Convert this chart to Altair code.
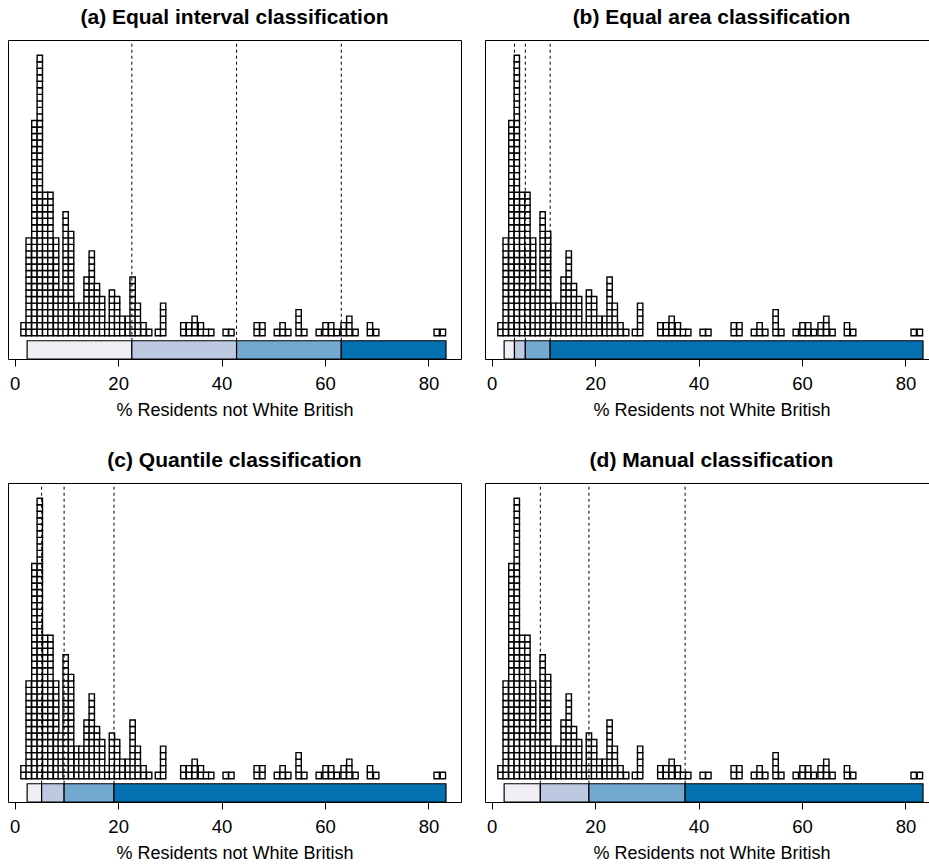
import altair as alt
import pandas as pd

# column centres (% residents not White British) and number of stacked areas in each column
col_pos = [1.7, 2.7, 3.8, 4.85, 5.9, 6.9, 8.0, 8.9, 9.85, 10.9, 12.0, 12.9, 13.9, 14.9,
           15.9, 16.9, 17.9, 18.8, 19.8, 20.8, 21.9, 22.8, 23.8, 24.9, 26.0, 27.7, 28.7,
           32.6, 33.7, 34.8, 36.0, 37.0, 38.0, 40.8, 41.9, 46.8, 47.9, 50.7, 51.8, 52.9,
           54.9, 56.0, 58.8, 60.1, 61.2, 62.3, 63.6, 64.7, 65.9, 68.7, 69.9, 81.6, 82.8]
col_count = [2, 15, 33, 43, 22, 22, 15, 7, 19, 16, 5, 5, 9, 13,
             8, 6, 2, 7, 6, 3, 3, 9, 5, 2, 1, 1, 5,
             2, 2, 3, 2, 1, 1, 1, 1, 2, 2, 1, 2, 1,
             4, 1, 1, 2, 2, 1, 2, 3, 1, 2, 1, 1, 1]

data_min = 2.4
data_max = 83.4

titles = ["(a) Equal interval classification", "(b) Equal area classification",
          "(c) Quantile classification", "(d) Manual classification"]
breaks_a = [22.65, 42.9, 63.15]
breaks_b = [4.4, 6.5, 11.3]
breaks_c = [5.2, 9.55, 19.2]
breaks_d = [9.4, 18.8, 37.4]
class_colors = ["#F1EEF6", "#BDC9E1", "#74A9CF", "#0570B0"]

x_label = "% Residents not White British"
x_ticks = [0, 20, 40, 60, 80]

FONT = "Liberation Sans"
SQ_W = 1.03          # square width in x units
X_DOM = [-1.3, 86.3]
Y_DOM = [-3.57, 45.33]
BAR_TOP = -0.77

rows = []
for p, c in zip(col_pos, col_count):
    for k in range(c):
        rows.append({"x": p - SQ_W / 2, "x2": p + SQ_W / 2, "y": k, "y2": k + 1})
sq_df = pd.DataFrame(rows)


def panel(title, brks):
    edges = [data_min] + brks + [data_max]
    bar_df = pd.DataFrame({"s": edges[:-1], "e": edges[1:], "col": class_colors})
    rule_df = pd.DataFrame({"b": brks})
    xs = alt.Scale(domain=X_DOM, nice=False, zero=False)
    ys = alt.Scale(domain=Y_DOM, nice=False, zero=False)
    xax = alt.Axis(values=x_ticks, title=x_label, grid=False, domain=False,
                   tickSize=7, tickColor="black", tickWidth=1,
                   labelFontSize=18.5, titleFontSize=18, labelColor="black",
                   titleColor="black", titleFontWeight="normal",
                   labelFont=FONT, titleFont=FONT, labelPadding=8, titlePadding=9,
                   labelFlush=False)
    squares = alt.Chart(sq_df).mark_rect(fill="white", stroke="black", strokeWidth=1.4).encode(
        x=alt.X("x:Q", scale=xs, axis=xax), x2="x2:Q",
        y=alt.Y("y:Q", scale=ys, axis=None), y2="y2:Q")
    bars = alt.Chart(bar_df).mark_rect(stroke="black", strokeWidth=1.2).encode(
        x=alt.X("s:Q", scale=xs), x2="e:Q",
        y=alt.datum(Y_DOM[0]), y2=alt.datum(BAR_TOP),
        fill=alt.Fill("col:N", scale=None))
    rules = alt.Chart(rule_df).mark_rule(color="black", strokeWidth=1, strokeDash=[3, 3]).encode(
        x=alt.X("b:Q", scale=xs), y=alt.datum(BAR_TOP), y2=alt.datum(Y_DOM[1]))
    return alt.layer(squares, bars, rules).properties(
        width=453, height=319,
        title=alt.TitleParams(title, fontSize=21, font=FONT, fontWeight="bold",
                              anchor="middle", offset=12, color="black"))


chart = alt.concat(
    panel(titles[0], breaks_a), panel(titles[1], breaks_b),
    panel(titles[2], breaks_c), panel(titles[3], breaks_d),
    columns=2, spacing={"row": 124, "column": 24}, bounds="flush",
).properties(
    padding={"left": 7, "top": 6, "right": -10, "bottom": 0}
).configure(background="white").configure_view(stroke="black", strokeWidth=1)

chart.save("out.html", embed_options={"renderer": "svg", "actions": False})
